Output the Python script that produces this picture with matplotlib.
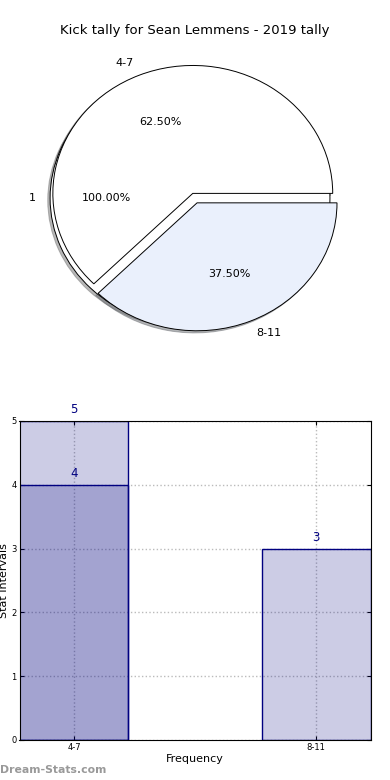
# Kick tally chart: pie on top, bar chart below
import matplotlib
matplotlib.use("Agg")
import matplotlib.pyplot as plt

# data
total_labels = ['1']
total_values = [1]
pie_labels = ['4-7', '8-11']
pie_values = [5, 3]
bar_labels = ['4-7', '8-11']
bar_values = [5, 3]
overlay_labels = ['4-7']
overlay_values = [4]

title = "Kick tally for Sean Lemmens - 2019 tally"

fig = plt.figure(figsize=(3.9, 7.8), dpi=100)

# --- pie chart (two pies drawn on the same axes) ---
ax1 = fig.add_axes([0.0513, 0.541, 0.897, 0.41])
edge = {'edgecolor': 'black', 'linewidth': 0.7}
shadow = {'ox': -0.012, 'oy': -0.012, 'shade': 0.55}
ax1.pie(total_values, labels=total_labels, autopct='%1.2f%%', explode=[0.035],
        shadow=shadow, colors=['white'], wedgeprops=edge,
        textprops={'fontsize': 8})
ax1.pie(pie_values, labels=pie_labels, autopct='%1.2f%%', explode=[0.04, 0.04],
        shadow=shadow, colors=['white', '#eaf0fc'], wedgeprops=edge,
        textprops={'fontsize': 8})
ax1.set_aspect('auto')
ax1.set_xlim(-1.25, 1.25)
ax1.set_ylim(-1.25, 1.25)
ax1.set_title(title, fontsize=9.5, pad=3)

# --- bar chart ---
ax2 = fig.add_axes([0.05, 0.0513, 0.9, 0.409])
x = list(range(len(bar_labels)))
fc = (0, 0, 0.5, 0.2)
bars = ax2.bar(x, bar_values, width=0.45, color=fc, edgecolor='navy', linewidth=1)
ox = [bar_labels.index(l) for l in overlay_labels]
bars2 = ax2.bar(ox, overlay_values, width=0.45, color=fc, edgecolor='navy', linewidth=1)
for b in list(bars) + list(bars2):
    ax2.text(b.get_x() + b.get_width() / 2, b.get_height() + 0.07, str(int(b.get_height())),
             ha='center', va='bottom', color='navy', fontsize=8.5)

ax2.set_xlim(-0.225, 1.225)
ax2.set_ylim(0, 5)
ax2.set_xticks(x)
ax2.set_xticklabels(bar_labels)
ax2.set_yticks(range(0, 6))
ax2.tick_params(labelsize=6, direction='in', top=True, right=True, length=3, pad=2)
ax2.grid(True, linestyle=':', color='#bbbbbb', linewidth=1)
ax2.set_axisbelow(True)
for s in ax2.spines.values():
    s.set_zorder(5)
ax2.set_xlabel('Frequency', fontsize=8)
ax2.set_ylabel('Stat Intervals', fontsize=8)
ax2.yaxis.set_label_coords(-0.029, 0.5)
ax2.xaxis.set_label_coords(0.5, -0.045)

fig.text(0.0, 0.0128, 'Dream-Stats.com', color='#999999', fontsize=7.8,
         fontweight='bold', va='center', ha='left')

fig.savefig('out.png', dpi=100)
